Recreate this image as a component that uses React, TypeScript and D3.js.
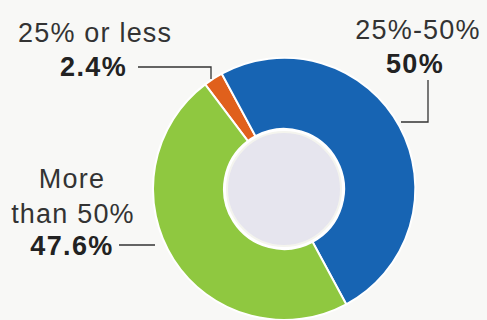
import React, { useEffect } from "react";
import * as d3 from "d3";

const categories = ["25% or less", "25%-50%", "More than 50%"];
const values = [2.4, 50, 47.6];
const valueLabels = ["2.4%", "50%", "47.6%"];
const colors = ["#e0601c", "#1764b3", "#8fc840"];

const W = 487;
const H = 320;
const cx = 284;
const cy = 189;
const outerR = 131;
const innerR = 60;
const discR = 57;
const startDeg = -37;

const FONT = "'Liberation Sans', Arial, Helvetica, sans-serif";

export default function App() {
  useEffect(() => {
    document.body.style.margin = "0";
  }, []);

  const start = (startDeg * Math.PI) / 180;
  const pie = d3
    .pie<number>()
    .sort(null)
    .value((d) => d)
    .startAngle(start)
    .endAngle(start + 2 * Math.PI);
  const arcs = pie(values);
  const arc = d3.arc<d3.PieArcDatum<number>>().innerRadius(innerR).outerRadius(outerR);

  const textStyle = {
    fontFamily: FONT,
    fontSize: 27,
    fill: "#333",
    letterSpacing: 1.2,
  } as React.CSSProperties;
  const boldStyle = {
    fontFamily: FONT,
    fontSize: 27,
    fontWeight: 700,
    fill: "#222",
    letterSpacing: 1.4,
  } as React.CSSProperties;

  return (
    <svg
      width={W}
      height={H}
      style={{ position: "absolute", left: 0, top: 0, display: "block" }}
    >
      <rect x={0} y={0} width={W} height={H} fill="#f8f8f6" />
      <g transform={`translate(${cx},${cy})`}>
        {arcs.map((a, i) => (
          <path key={categories[i]} d={arc(a) || ""} fill={colors[i]} stroke="#ffffff" strokeWidth={2} />
        ))}
        <circle r={innerR} fill="#ffffff" />
        <circle r={discR} fill="#e6e5ee" stroke="#f4f4ee" strokeWidth={2} />
      </g>

      {/* 25% or less */}
      <text x={18} y={42} style={textStyle}>{categories[0]}</text>
      <text x={60} y={76} style={boldStyle}>{valueLabels[0]}</text>
      <polyline points="138,67 211,67 211,79" fill="none" stroke="#333" strokeWidth={1.3} />

      {/* 25%-50% */}
      <text x={418} y={39} textAnchor="middle" style={textStyle}>{categories[1]}</text>
      <text x={415} y={73} textAnchor="middle" style={boldStyle}>{valueLabels[1]}</text>
      <polyline points="428,80 428,122 401,122" fill="none" stroke="#333" strokeWidth={1.3} />

      {/* More than 50% */}
      <text x={72} y={188} textAnchor="middle" style={textStyle}>More</text>
      <text x={73} y={223} textAnchor="middle" style={textStyle}>than 50%</text>
      <text x={72} y={255} textAnchor="middle" style={boldStyle}>{valueLabels[2]}</text>
      <line x1={119} y1={245} x2={155} y2={245} stroke="#333" strokeWidth={1.3} />
    </svg>
  );
}
